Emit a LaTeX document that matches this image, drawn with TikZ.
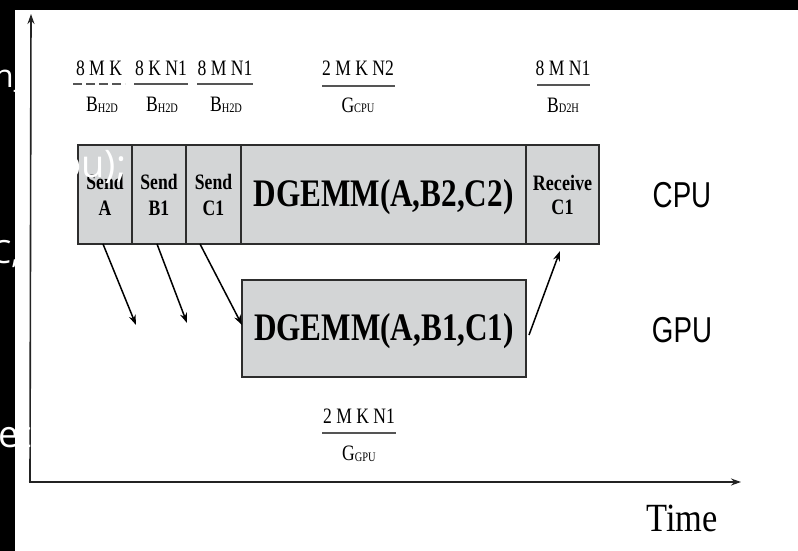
\documentclass[tikz,border=0pt]{standalone}
\usepackage{fontspec}
\usepackage{graphicx}
\setmainfont{Liberation Serif}
\newfontfamily\lsans{Liberation Sans}
\newfontfamily\osans{Open Sans}
\usetikzlibrary{arrows.meta,calc}
\definecolor{boxgray}{RGB}{211,213,214}
\definecolor{linegray}{RGB}{45,45,45}
\definecolor{fracgray}{RGB}{85,85,85}
\definecolor{axisgray}{RGB}{35,35,35}
\newcommand{\sq}[2][0.8]{\scalebox{#1}[1]{#2}}
\newcommand{\sbs}[1]{{\fontsize{13}{13}\selectfont\raisebox{-1pt}{#1}}}
\begin{document}
\begin{tikzpicture}[x=1pt,y=-1pt,
  cell/.style={draw=linegray,line width=1.3pt,fill=boxgray,inner sep=0pt,outer sep=0pt,anchor=north west,minimum height=99pt,align=center},
  smalltxt/.style={font=\fontsize{22}{26}\selectfont\bfseries},
  bigtxt/.style={font=\fontsize{39}{39}\selectfont\bfseries,text height=26pt,text depth=3pt},
  fracnum/.style={font=\fontsize{22}{22}\selectfont,anchor=base,inner sep=0pt},
  fracline/.style={draw=fracgray,line width=1.8pt},
  arr/.style={draw=black,line width=1.5pt,-{Stealth[length=10pt,width=7pt]}},
  axis/.style={draw=axisgray,line width=1.6pt,-{Stealth[length=10pt,width=7pt]}},
  side/.style={font=\lsans\fontsize{36}{36}\selectfont,inner sep=0pt},
  junk/.style={text=white,font=\osans\fontsize{#1}{#1}\selectfont,anchor=base west,inner sep=0pt}
]
\useasboundingbox (0,0) rectangle (798,551);
\fill[white] (0,0) rectangle (798,551);
% black frame strips
\fill[black] (0,0) rectangle (798,10);
\fill[black] (0,0) rectangle (15,551);

% axes
\coordinate (orig) at (30,482);
\coordinate (ytop) at (31,14);
\coordinate (xend) at (741,482);
\draw[axis] (orig) -- (ytop);
\draw[axis] ([xshift=-1.5pt]orig) -- (xend);

% CPU row
\node[cell,smalltxt,minimum width=54pt] (sendA) at (78,145) {\sq{Send}\\\sq{A}};
\node[cell,smalltxt,minimum width=54pt] (sendB) at (sendA.north east) {\sq{Send}\\\sq{B1}};
\node[cell,smalltxt,minimum width=55pt] (sendC) at (sendB.north east) {\sq{Send}\\\sq{C1}};
\node[cell,bigtxt,minimum width=285pt] (cpuD) at (sendC.north east) {\sq{DGEMM(A,B2,C2)}};
\node[cell,smalltxt,minimum width=73pt,font=\fontsize{22}{24}\selectfont\bfseries] (recv) at (cpuD.north east) {\sq[0.82]{Receive}\\\sq[0.82]{C1}};

% GPU row
\node[cell,bigtxt,minimum width=284pt,minimum height=97pt] (gpuD) at (242,280) {\sq{DGEMM(A,B1,C1)}};

% side labels
\node[side] (cpu) at (682,195) {\sq[0.77]{CPU}};
\node[side] (gpu) at (682,330) {\sq[0.77]{GPU}};
\node[font=\fontsize{40}{40}\selectfont,inner sep=0pt] (time) at (682,518) {\sq[0.86]{Time}};

% fractions
\node[fracnum] (n1) at (99,75) {\sq{8 M K}};
\draw[fracline,dash pattern=on 9pt off 4pt] (73,84) -- (125,84);
\node[fracnum] (d1) at (102,111) {\sq{B\sbs{H2D}}};

\node[fracnum] (n2) at (161,75) {\sq{8 K N1}};
\draw[fracline] (134,84) -- (188,84);
\node[fracnum] (d2) at (162,111) {\sq{B\sbs{H2D}}};

\node[fracnum] (n3) at (225,75) {\sq{8 M N1}};
\draw[fracline] (197,84) -- (253,84);
\node[fracnum] (d3) at (226,111) {\sq{B\sbs{H2D}}};

\node[fracnum] (n4) at (358,76) {\sq{2 M K N2}};
\draw[fracline] (322,86) -- (395,86);
\node[fracnum] (d4) at (358,112) {\sq{G\sbs{CPU}}};

\node[fracnum] (n5) at (563,76) {\sq{8 M N1}};
\draw[fracline] (537,85) -- (590,85);
\node[fracnum] (d5) at (563,112) {\sq{B\sbs{D2H}}};

\node[fracnum] (n6) at (359,423) {\sq{2 M K N1}};
\draw[fracline] (322,433) -- (396,433);
\node[fracnum] (d6) at (359,460) {\sq{G\sbs{GPU}}};

% transfer arrows
\coordinate (ea) at (136,325);
\coordinate (eb) at (187,323);
\draw[arr] ([xshift=-2pt]sendA.south) -- (ea);
\draw[arr] ([xshift=-2pt]sendB.south) -- (eb);
\draw[arr] ([xshift=-13.5pt]sendC.south) -- ([yshift=3.5pt]gpuD.west);
\draw[arr] ([xshift=3pt,yshift=-6.5pt]gpuD.east) -- ([xshift=-2.5pt,yshift=-7pt]recv.south);

% overlay fragments
\node[junk=32] (j1) at (-6,88) {n\_};
\node[junk=38] (j2) at (58,177) {pu);};
\node[junk=32] (j3) at (-9,263) {C,};
\node[junk=37] (j4) at (-2,447) {ete};
\end{tikzpicture}
\end{document}
